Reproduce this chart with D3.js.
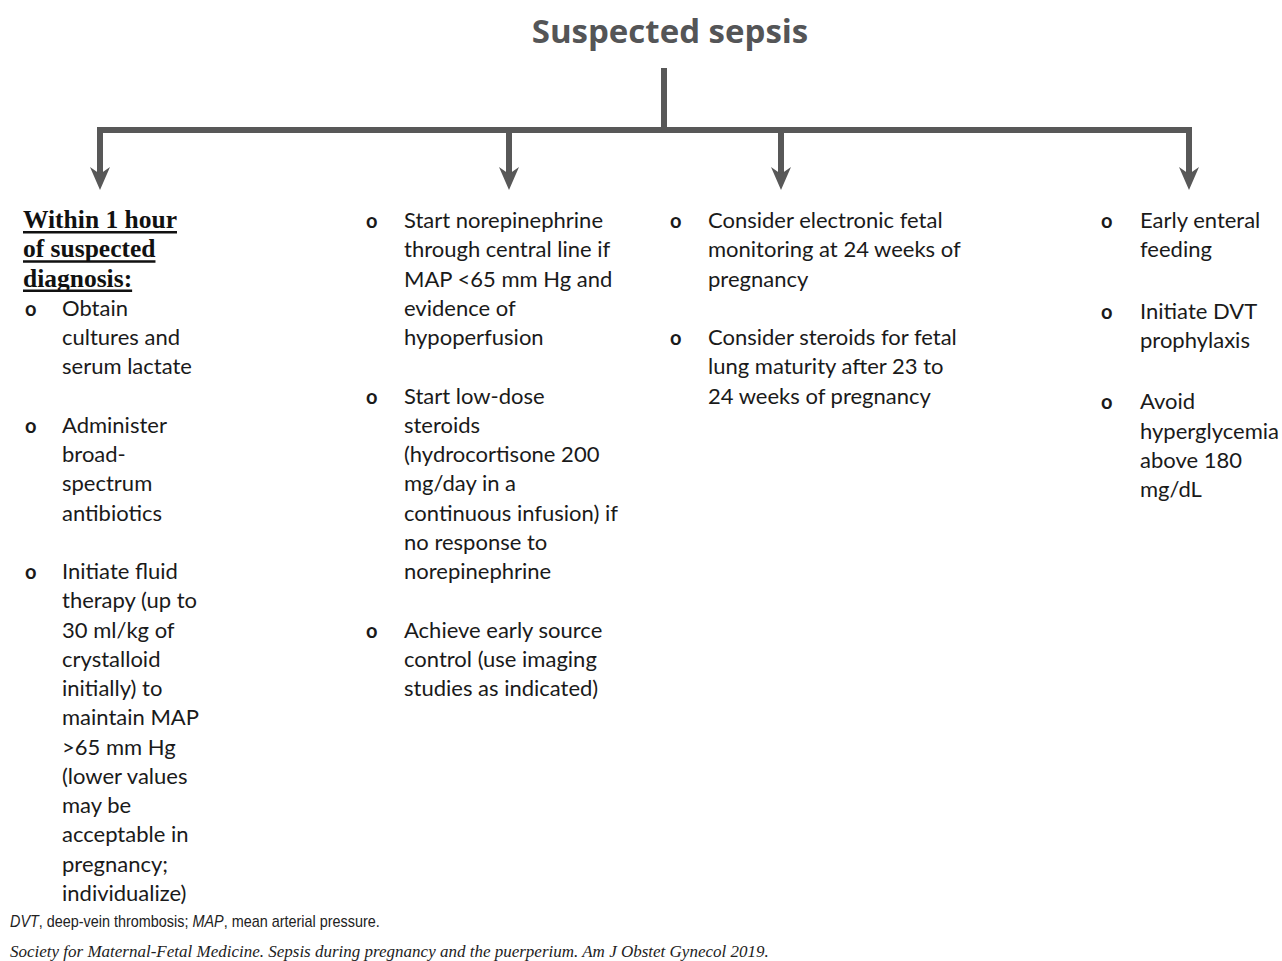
<!DOCTYPE html>
<html>
<head>
<meta charset="utf-8">
<script src="https://cdn.jsdelivr.net/npm/d3@7"></script>
<style>
  html, body { margin: 0; padding: 0; background: #ffffff; }
  svg { display: block; }
</style>
</head>
<body>
<svg id="chart" width="1282" height="961"></svg>
<script>
// ---------- content ----------
const title = "Suspected sepsis";
const col1Heading = ["Within 1 hour", "of suspected", "diagnosis:"];
const col1Items = [
  ["Obtain", "cultures and", "serum lactate"],
  ["Administer", "broad-", "spectrum", "antibiotics"],
  ["Initiate fluid", "therapy (up to", "30 ml/kg of", "crystalloid", "initially) to", "maintain MAP", ">65 mm Hg", "(lower values", "may be", "acceptable in", "pregnancy;", "individualize)"]
];
const col2Items = [
  ["Start norepinephrine", "through central line if", "MAP <65 mm Hg and", "evidence of", "hypoperfusion"],
  ["Start low-dose", "steroids", "(hydrocortisone 200", "mg/day in a", "continuous infusion) if", "no response to", "norepinephrine"],
  ["Achieve early source", "control (use imaging", "studies as indicated)"]
];
const col3Items = [
  ["Consider electronic fetal", "monitoring at 24 weeks of", "pregnancy"],
  ["Consider steroids for fetal", "lung maturity after 23 to", "24 weeks of pregnancy"]
];
const col4Items = [
  ["Early enteral", "feeding"],
  ["Initiate DVT", "prophylaxis"],
  ["Avoid", "hyperglycemia", "above 180", "mg/dL"]
];
const footnoteParts = [
  {t: "DVT", i: true}, {t: ", deep-vein thrombosis; ", i: false},
  {t: "MAP", i: true}, {t: ", mean arterial pressure.", i: false}
];
const citation = "Society for Maternal-Fetal Medicine. Sepsis during pregnancy and the puerperium. Am J Obstet Gynecol 2019.";

// ---------- layout ----------
const svg = d3.select("#chart");
const lineColor = "#585858";
const textColor = "#1a1a1a";
const bodyFont = "Lato, 'Open Sans', sans-serif";
const bodySize = 22;

// row scale: row index -> baseline y
const row = d3.scaleLinear().domain([0, 1]).range([228, 228 + 29.25]);

// title
svg.append("text")
  .attr("x", 670).attr("y", 43)
  .attr("text-anchor", "middle")
  .attr("font-family", "'Open Sans', Lato, sans-serif")
  .attr("font-weight", 700)
  .attr("font-size", 33)
  .attr("fill", "#545557")
  .text(title);

// connectors
const arrowX = [100, 509, 781, 1189];
const barY = 130;
const g = svg.append("g").attr("stroke", lineColor).attr("fill", "none").attr("stroke-width", 6);
g.append("line").attr("x1", 664).attr("x2", 664).attr("y1", 68).attr("y2", barY);
g.append("line").attr("x1", d3.min(arrowX) - 3).attr("x2", d3.max(arrowX) + 3).attr("y1", barY).attr("y2", barY);
g.selectAll("line.shaft").data(arrowX).join("line").attr("class", "shaft")
  .attr("x1", d => d).attr("x2", d => d).attr("y1", barY - 3).attr("y2", 176);
svg.append("g").attr("fill", lineColor).selectAll("path").data(arrowX).join("path")
  .attr("d", d => `M${d - 10},167 L${d},174 L${d + 10},167 L${d},190 Z`);

// text helpers
function drawItems(items, bulletX, textX, startRow, gapRows) {
  let r = startRow;
  const grp = svg.append("g")
    .attr("font-family", bodyFont).attr("font-size", bodySize).attr("fill", textColor);
  items.forEach(lines => {
    grp.append("text").attr("x", bulletX).attr("y", row(r)).attr("font-weight", 700).attr("font-size", 20).text("o");
    lines.forEach((ln, k) => {
      grp.append("text").attr("x", textX).attr("y", row(r + k)).text(ln);
    });
    r += lines.length + gapRows;
  });
}

// column 1 heading
const hg = svg.append("g")
  .attr("font-family", "'Liberation Serif', 'Times New Roman', serif")
  .attr("font-weight", 700).attr("font-size", 25.5).attr("fill", "#111");
col1Heading.forEach((ln, k) => {
  const t = hg.append("text").attr("x", 23).attr("y", row(k)).text(ln);
  const w = t.node().getComputedTextLength();
  hg.append("rect").attr("x", 23).attr("y", row(k) + 3).attr("width", w).attr("height", 2.5).attr("fill", "#111");
});

drawItems(col1Items, 25, 62, 3, 1);
drawItems(col2Items, 366, 404, 0, 1);
drawItems(col3Items, 670, 708, 0, 1);
drawItems(col4Items, 1101, 1140, 0, 1.1);

// footnote (condensed via horizontal scale)
const fn = svg.append("text")
  .attr("transform", "translate(10,927) scale(0.9,1)")
  .attr("font-family", "'Liberation Sans Narrow', 'Arial Narrow', 'Liberation Sans', sans-serif")
  .attr("font-size", 16).attr("fill", "#222");
footnoteParts.forEach(p => fn.append("tspan").attr("font-style", p.i ? "italic" : "normal").text(p.t));

svg.append("text").attr("x", 10).attr("y", 957)
  .attr("font-family", "'Liberation Serif', 'Times New Roman', serif")
  .attr("font-style", "italic").attr("font-size", 17).attr("fill", "#222")
  .text(citation);
</script>
</body>
</html>
